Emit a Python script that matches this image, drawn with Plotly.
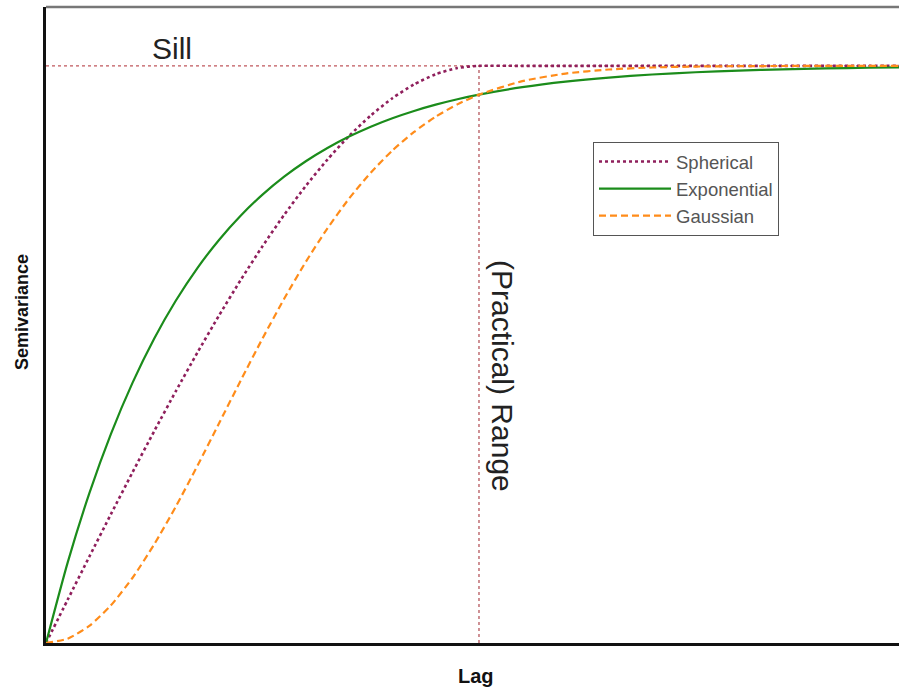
import plotly.graph_objects as go

# Lag values (range = 10, sill = 1)
lags = [0, 0.5, 1, 1.5, 2, 2.5, 3, 3.5, 4, 4.5, 5, 5.5, 6, 6.5, 7, 7.5, 8, 8.5, 9, 9.5, 10,
        11, 12, 13, 14, 15, 16, 17, 18, 19, 20]

spherical = [0, 0.0749, 0.1495, 0.2233, 0.296, 0.3672, 0.4365, 0.5036, 0.568, 0.6294, 0.6875,
             0.7418, 0.792, 0.8377, 0.8785, 0.9141, 0.944, 0.9679, 0.9855, 0.9963, 1.0,
             1.0, 1.0, 1.0, 1.0, 1.0, 1.0, 1.0, 1.0, 1.0, 1.0]

exponential = [0, 0.1393, 0.2592, 0.3624, 0.4512, 0.5276, 0.5934, 0.6501, 0.6988, 0.7408, 0.7769,
               0.808, 0.8347, 0.8577, 0.8775, 0.8946, 0.9093, 0.9219, 0.9328, 0.9422, 0.9502,
               0.9631, 0.9727, 0.9798, 0.985, 0.9889, 0.9918, 0.9939, 0.9955, 0.9967, 0.9975]

gaussian = [0, 0.0075, 0.0296, 0.0653, 0.1131, 0.171, 0.2366, 0.3075, 0.3812, 0.4553, 0.5276,
            0.5964, 0.6604, 0.7185, 0.7701, 0.815, 0.8534, 0.8855, 0.912, 0.9333, 0.9502,
            0.9735, 0.9867, 0.9937, 0.9972, 0.9988, 0.9995, 0.9998, 1.0, 1.0, 1.0]

sill = 1.0
practical_range = 10
x_max = 19.7
y_max = 1.102

FONT = "Liberation Sans, Arial, sans-serif"

fig = go.Figure()

# reference lines
fig.add_trace(go.Scatter(x=[0, x_max], y=[sill, sill], mode="lines",
                         line=dict(color="#c0575c", width=1.2, dash="3px,3px"),
                         showlegend=False, hoverinfo="skip"))
fig.add_trace(go.Scatter(x=[practical_range, practical_range], y=[0, sill], mode="lines",
                         line=dict(color="#b04a50", width=1.2, dash="3px,3px"),
                         showlegend=False, hoverinfo="skip"))

fig.add_trace(go.Scatter(x=lags, y=spherical, mode="lines", name="Spherical",
                         line=dict(color="#8f1f5c", width=2.6, dash="3px,3px", shape="spline", smoothing=0.6)))
fig.add_trace(go.Scatter(x=lags, y=exponential, mode="lines", name="Exponential",
                         line=dict(color="#1b8c1b", width=2.2, shape="spline", smoothing=0.6)))
fig.add_trace(go.Scatter(x=lags, y=gaussian, mode="lines", name="Gaussian",
                         line=dict(color="#ff8c1a", width=2.2, dash="7px,4px", shape="spline", smoothing=0.6)))

# plot area in page pixels: x 46..899, y 7..643
def px(x):
    return (x - 46) / 853

def py(y):
    return (643 - y) / 636

fig.update_layout(
    width=899, height=689,
    margin=dict(l=46, r=0, t=7, b=46),
    paper_bgcolor="white", plot_bgcolor="white",
    font=dict(family=FONT, color="#222"),
    xaxis=dict(range=[0, x_max], showgrid=False, zeroline=False, showticklabels=False,
               ticks="", showline=True, linecolor="#111", linewidth=2.5),
    yaxis=dict(range=[0, y_max], showgrid=False, zeroline=False, showticklabels=False,
               ticks="", showline=True, linecolor="#111", linewidth=2.5),
    legend=dict(x=px(593), y=py(142), xanchor="left", yanchor="top",
                bgcolor="white", bordercolor="#555", borderwidth=1,
                font=dict(size=18.5, color="#555", family=FONT),
                itemwidth=72),
    showlegend=True,
    shapes=[dict(type="line", xref="paper", yref="paper", x0=0, x1=1, y0=1, y1=1,
                 line=dict(color="#777", width=2.5))],
    annotations=[
        dict(x=px(172), y=py(49), xref="paper", yref="paper", text="Sill", showarrow=False,
             yanchor="middle", xanchor="center", font=dict(size=30, color="#222")),
        dict(x=px(503), y=py(376), xref="paper", yref="paper",
             text="(Practical) Range", showarrow=False, textangle=90,
             xanchor="center", yanchor="middle", font=dict(size=30, color="#222")),
        dict(x=px(22), y=py(312), xref="paper", yref="paper",
             text="<b>Semivariance</b>", showarrow=False, textangle=-90,
             xanchor="center", yanchor="middle", font=dict(size=18, color="#111")),
        dict(x=px(476), y=py(676), xref="paper", yref="paper",
             text="<b>Lag</b>", showarrow=False,
             xanchor="center", yanchor="middle", font=dict(size=20, color="#111")),
    ],
)

fig.write_html("out.html", config={"displayModeBar": False},
               post_script="document.body.style.margin='0';")
